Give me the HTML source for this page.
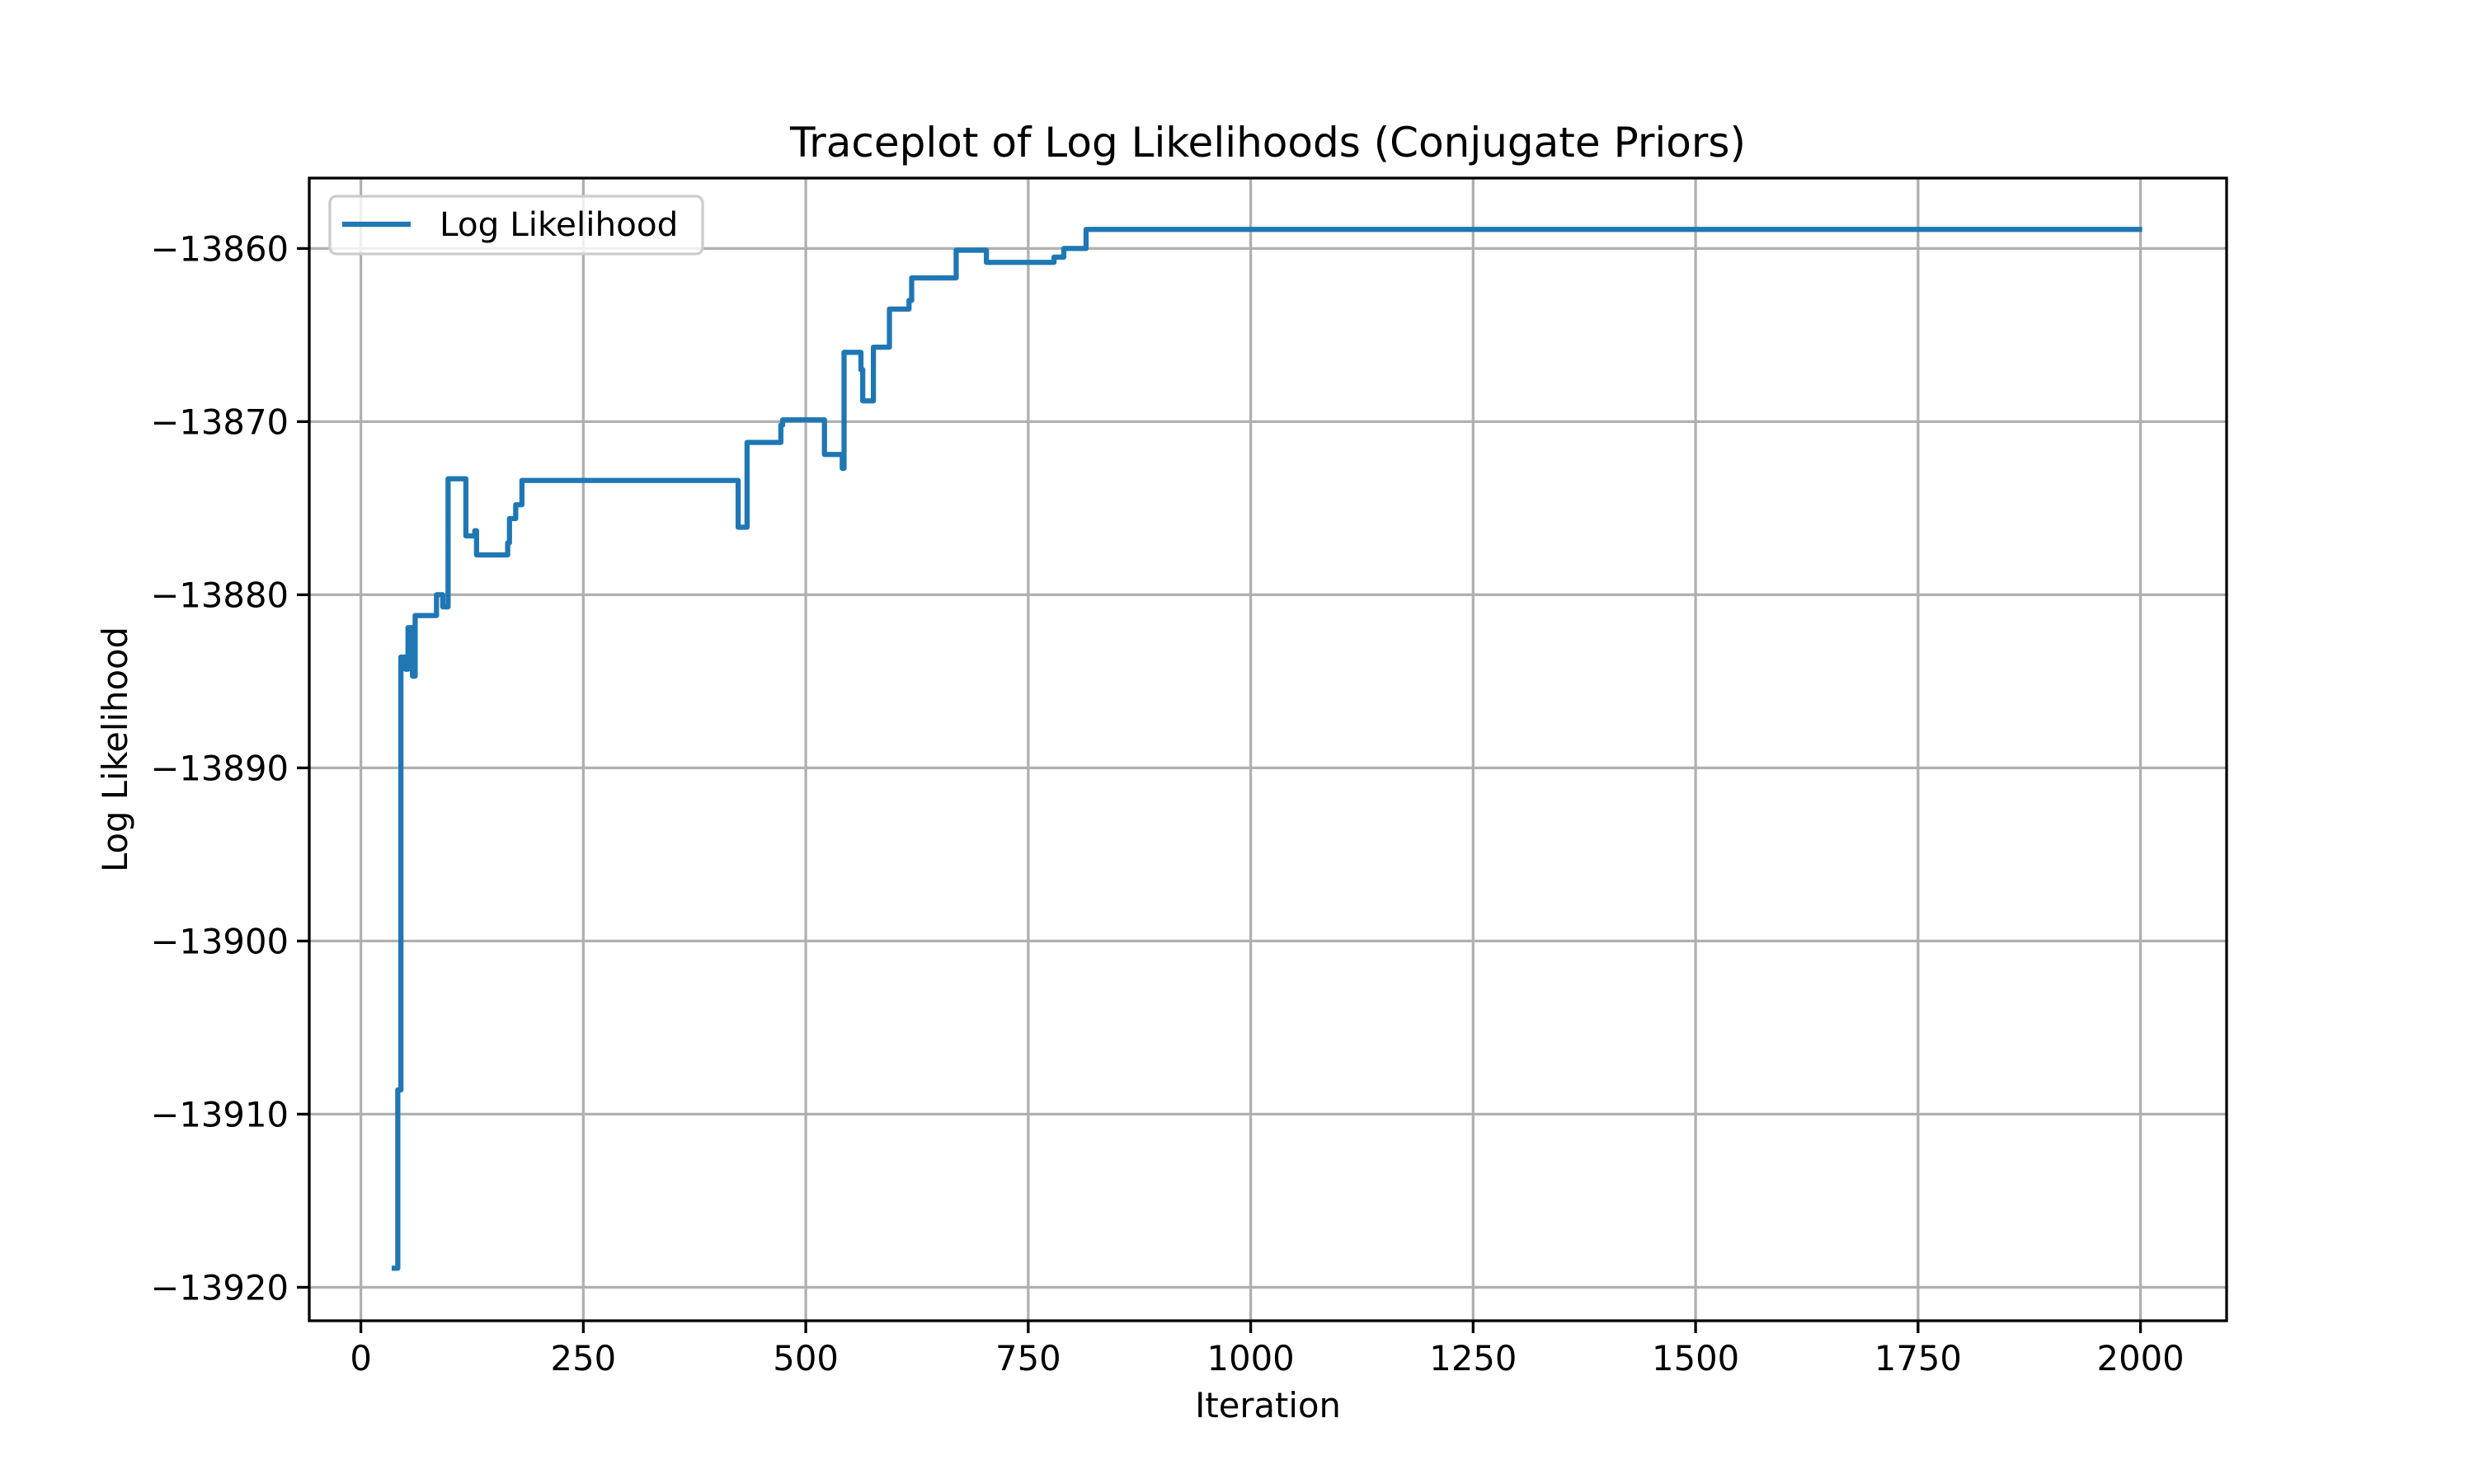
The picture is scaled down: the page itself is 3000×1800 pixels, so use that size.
<!DOCTYPE html>
<html><head><meta charset="utf-8"><style>
html,body{margin:0;padding:0;background:#fff;}
svg{display:block;font-family:"DejaVu Sans","Liberation Sans",sans-serif;}
</style></head><body>
<svg id="chart" width="3000" height="1800" viewBox="0 0 3000 1800" xmlns="http://www.w3.org/2000/svg">
<rect width="3000" height="1800" fill="#fff"/>
<g id="grid"></g>
<g id="axes"></g>
<path id="line" fill="none" stroke="#1f77b4" stroke-width="6.25" stroke-linejoin="round" stroke-linecap="square"/>
<rect x="375" y="216" width="2325" height="1386" fill="none" stroke="#000" stroke-width="3.3"/>
<text x="1537.5" y="190" font-size="50" text-anchor="middle">Traceplot of Log Likelihoods (Conjugate Priors)</text>
<text x="1537.5" y="1740" font-size="41.7" text-anchor="middle" transform="translate(0,-21)">Iteration</text>
<text transform="translate(154,909) rotate(-90)" font-size="41.7" text-anchor="middle">Log Likelihood</text>
<g>
<rect x="400" y="238" width="452" height="70" rx="8" fill="#fff" fill-opacity="0.8" stroke="#ccc" stroke-width="3.3"/>
<line x1="415" y1="272" x2="498" y2="272" stroke="#1f77b4" stroke-width="6.25"/>
<text x="533" y="286" font-size="40.5">Log Likelihood</text>
</g>
</svg>
<script>
const changeIters = [37.5,41.5,45,50,53,58,61,85,92,98,116,118,128,130,165,167,174,181,424,434,472,474,521,541,543,545,562,564,569,576,594,616,617,619,669,703,779,790,815,1999];
const changeValues = [-13918.9,-13908.6,-13883.6,-13884.3,-13881.9,-13884.7,-13881.2,-13880.0,-13880.7,-13873.3,-13873.3,-13876.6,-13876.3,-13877.7,-13877.0,-13875.6,-13874.8,-13873.4,-13876.1,-13871.2,-13870.2,-13869.9,-13871.9,-13872.7,-13866.0,-13866.0,-13867.0,-13868.8,-13868.8,-13865.7,-13863.5,-13863.0,-13863.0,-13861.7,-13860.1,-13860.8,-13860.5,-13860.0,-13858.9,-13858.9];
const xTicks = [0,250,500,750,1000,1250,1500,1750,2000];
const yTicks = [-13920,-13910,-13900,-13890,-13880,-13870,-13860];
const xScale = v => 437.6 + v * 1.079;
const yScale = v => 301.4 + (-13860 - v) * 21.0;
const NS = "http://www.w3.org/2000/svg";
const grid = document.getElementById('grid');
const axes = document.getElementById('axes');
function mk(tag, attrs, parent){const e=document.createElementNS(NS,tag);for(const k in attrs)e.setAttribute(k,attrs[k]);parent.appendChild(e);return e;}
xTicks.forEach(t=>{
  const x=xScale(t);
  const g=mk('line',{x1:x,y1:216,x2:x,y2:1602,stroke:'#b0b0b0','stroke-width':3.3},grid);
  
  
  const tk=mk('line',{x1:x,y1:1602,x2:x,y2:1617,stroke:'#000','stroke-width':3.3},axes);
  
  
  const lb=mk('text',{x:x,y:1662,'font-size':41.7,'text-anchor':'middle'},axes);
  lb.textContent=String(t);
  
  
});
yTicks.forEach(t=>{
  const y=yScale(t);
  const g=mk('line',{x1:375,y1:y,x2:2700,y2:y,stroke:'#b0b0b0','stroke-width':3.3},grid);
  
  
  const tk=mk('line',{x1:360,y1:y,x2:375,y2:y,stroke:'#000','stroke-width':3.3},axes);
  
  
  const lb=mk('text',{x:350,y:y+15,'font-size':41.7,'text-anchor':'end'},axes);
  lb.textContent='\u2212'+String(Math.abs(t));
  
  
});
let d='';
for(let i=0;i<changeIters.length;i++){
  const x=xScale(changeIters[i]), y=yScale(changeValues[i]);
  if(i===0) d+='M'+x+' '+y;
  else { d+=' L'+x+' '+yScale(changeValues[i-1])+' L'+x+' '+y; }
}
document.getElementById('line').setAttribute('d',d);
</script>
</body></html>
